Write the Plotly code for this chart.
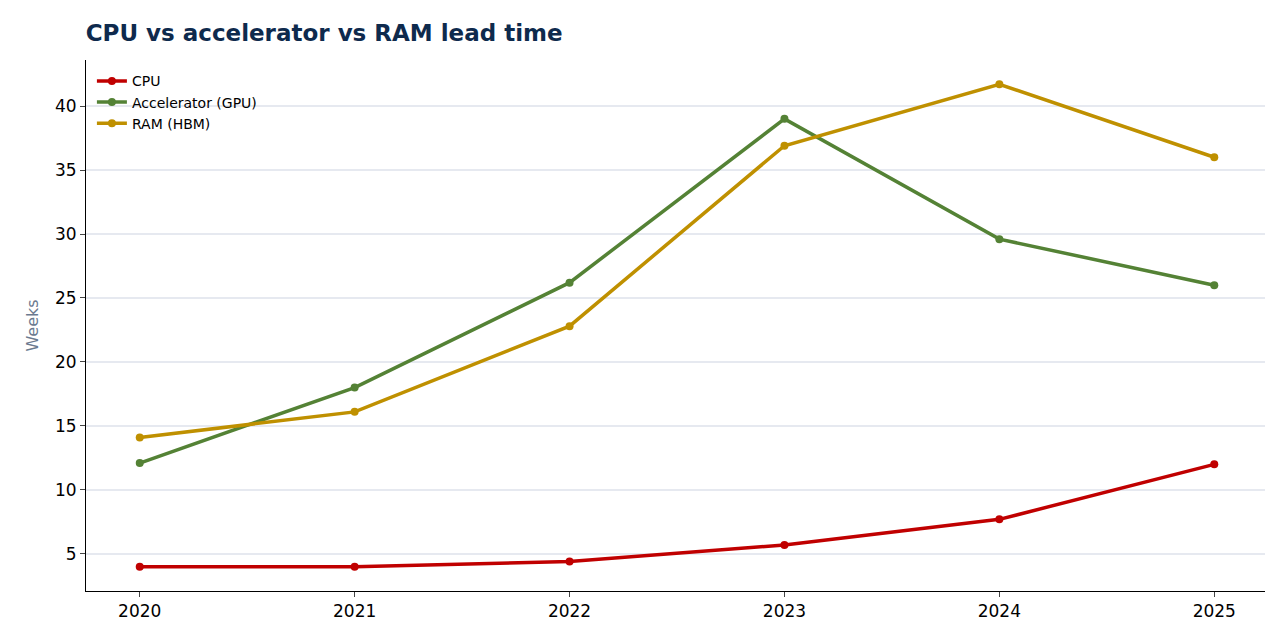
import plotly.graph_objects as go

years = [2020, 2021, 2022, 2023, 2024, 2025]
cpu = [4.0, 4.0, 4.4, 5.7, 7.7, 12.0]
gpu = [12.1, 18.0, 26.2, 39.0, 29.6, 26.0]
ram = [14.1, 16.1, 22.8, 36.9, 41.7, 36.0]

fig = go.Figure()
for name, vals, col in [("CPU", cpu, "#c00000"),
                        ("Accelerator (GPU)", gpu, "#548235"),
                        ("RAM (HBM)", ram, "#bf9000")]:
    fig.add_trace(go.Scatter(x=years, y=vals, name=name, mode="lines+markers",
                             line=dict(color=col, width=3.5),
                             marker=dict(size=8, color=col)))

fig.update_layout(
    width=1273, height=630,
    plot_bgcolor="white", paper_bgcolor="white",
    font=dict(family="DejaVu Sans", size=17, color="black"),
    title=dict(text="<b>CPU vs accelerator vs RAM lead time</b>", x=0.061,
               y=1 - 25 / 630, yref="container", yanchor="middle",
               xanchor="left", font=dict(size=23, color="#0e2a4d")),
    margin=dict(l=78, r=13, t=52, b=47, autoexpand=False),
    legend=dict(x=0.005, y=0.99, font=dict(size=14), bgcolor="rgba(0,0,0,0)"),
    xaxis=dict(range=[2019.75, 2025.25], tickvals=years, showgrid=False,
               showline=True, linecolor="black", ticks="outside", zeroline=False,
               automargin=False),
    yaxis=dict(range=[2.1, 43.6], dtick=5, tick0=5, showgrid=True,
               gridcolor="#e6e9f0", gridwidth=1.5, showline=True, linecolor="black",
               ticks="outside", zeroline=False, automargin=False,
               title=dict(text="Weeks", standoff=12,
                          font=dict(color="#6b7a90", size=16))),
)
fig.write_html("out.html")
